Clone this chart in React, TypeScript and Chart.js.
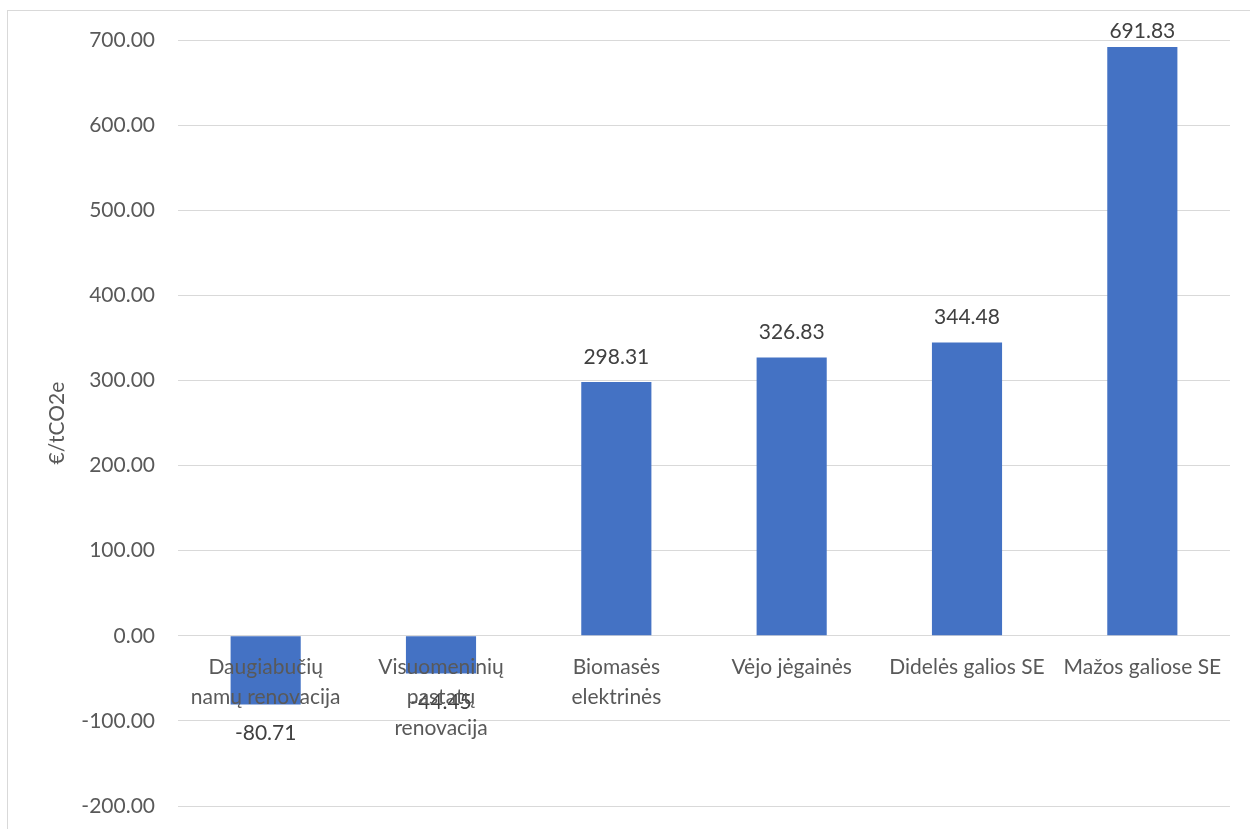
import React, { useEffect, useRef } from "react";
import { Chart, registerables } from "chart.js";

Chart.register(...registerables);

const categories: (string | string[])[] = [
  ["Daugiabučių", "namų renovacija"],
  ["Visuomeninių", "pastatų", "renovacija"],
  ["Biomasės", "elektrinės"],
  "Vėjo jėgainės",
  "Didelės galios SE",
  "Mažos galiose SE",
];
const values = [-80.71, -44.45, 298.31, 326.83, 344.48, 691.83];
const yTickValues = [-200, -100, 0, 100, 200, 300, 400, 500, 600, 700];
const yAxisTitle = "€/tCO2e";

const FONT = "Lato";
const FONT_SIZE = 21;

const valueLabels = {
  id: "valueLabels",
  afterDatasetsDraw(chart: any) {
    const ctx = chart.ctx;
    const meta = chart.getDatasetMeta(0);
    ctx.save();
    ctx.font = `${FONT_SIZE}px ${FONT}`;
    ctx.fillStyle = "#404040";
    ctx.textAlign = "center";
    ctx.textBaseline = "middle";
    meta.data.forEach((bar: any, i: number) => {
      const v = values[i];
      let y = v >= 0 ? bar.y - 25 : bar.y + 29;
      y = Math.max(y, chart.chartArea.top - 9);
      ctx.fillText(v.toFixed(2), bar.x, y);
    });
    ctx.restore();
  },
};

export default function App() {
  const ref = useRef<HTMLCanvasElement | null>(null);
  useEffect(() => {
    if (!ref.current) return;
    const chart = new Chart(ref.current, {
      type: "bar",
      data: {
        labels: categories as any,
        datasets: [
          {
            data: values,
            backgroundColor: "#4472c4",
            borderWidth: 0,
            barPercentage: 0.4,
            categoryPercentage: 1,
          },
        ],
      },
      options: {
        animation: false,
        responsive: false,
        layout: { padding: { left: 0, top: 40, right: 20, bottom: 23 } },
        plugins: { legend: { display: false }, tooltip: { enabled: false } },
        scales: {
          x: {
            position: { y: 0 } as any,
            afterFit: (s: any) => {
              s.height = 0;
              s.paddingLeft = 0;
              s.paddingRight = 0;
            },
            grid: { display: false, drawTicks: false },
            border: { display: false },
            ticks: {
              z: 1,
              color: "#595959",
              font: { family: FONT, size: FONT_SIZE, lineHeight: 1.45 },
              padding: 16,
              autoSkip: false,
              maxRotation: 0,
              minRotation: 0,
            },
          },
          y: {
            min: -200,
            max: 700,
            afterBuildTicks: (s: any) => {
              s.ticks = yTickValues.map((v) => ({ value: v }));
            },
            afterFit: (s: any) => {
              s.width = 178;
              s.paddingTop = 0;
              s.paddingBottom = 0;
            },
            ticks: {
              color: "#595959",
              font: { family: FONT, size: FONT_SIZE },
              padding: 23,
              callback: (v: any) => Number(v).toFixed(2),
            },
            grid: { color: "#d9d9d9", drawTicks: false, lineWidth: 1 },
            border: { display: false },
            title: {
              display: true,
              text: yAxisTitle,
              color: "#595959",
              font: { family: FONT, size: FONT_SIZE },
              padding: { top: 45, bottom: 0 },
            },
          },
        },
      },
      plugins: [valueLabels],
    });
    return () => chart.destroy();
  }, []);

  return (
    <div style={{ position: "fixed", left: 0, top: 0, width: 1250, height: 829, overflow: "hidden", background: "#fff" }}>
      <div
        style={{
          position: "absolute",
          left: 7,
          top: 10,
          width: 1300,
          height: 900,
          border: "1px solid #d9d9d9",
          boxSizing: "border-box",
        }}
      />
      <canvas
        ref={ref}
        width={1250}
        height={829}
        style={{ position: "absolute", left: 0, top: 0, width: 1250, height: 829 }}
      />
    </div>
  );
}
